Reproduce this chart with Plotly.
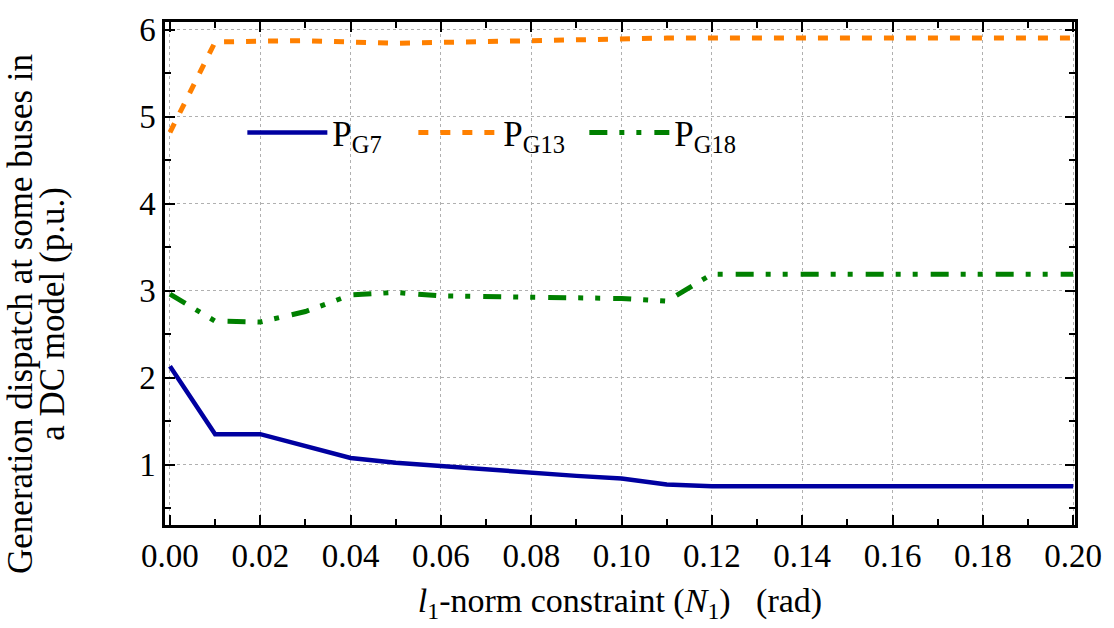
import plotly.graph_objects as go

# l1-norm constraint values (rad)
n1 = [0.00, 0.01, 0.02, 0.03, 0.04, 0.05, 0.06, 0.07, 0.08, 0.09, 0.10,
      0.11, 0.12, 0.13, 0.14, 0.15, 0.16, 0.17, 0.18, 0.19, 0.20]

# generation dispatch (p.u.)
p_g7 = [2.13, 1.35, 1.35, 1.21, 1.075, 1.02, 0.98, 0.94, 0.905, 0.87, 0.84,
        0.77, 0.75, 0.75, 0.75, 0.75, 0.75, 0.75, 0.75, 0.75, 0.75]
p_g13 = [4.82, 5.86, 5.87, 5.875, 5.86, 5.845, 5.855, 5.865, 5.88, 5.89, 5.905,
         5.905, 5.905, 5.905, 5.905, 5.905, 5.905, 5.905, 5.905, 5.905, 5.905]
p_g18 = [2.96, 2.65, 2.64, 2.76, 2.95, 2.98, 2.94, 2.93, 2.93, 2.92, 2.91,
         2.88, 3.19, 3.19, 3.19, 3.19, 3.19, 3.19, 3.19, 3.19, 3.19]

x_ticks = [0.00, 0.02, 0.04, 0.06, 0.08, 0.10, 0.12, 0.14, 0.16, 0.18, 0.20]
x_tick_text = ["0.00", "0.02", "0.04", "0.06", "0.08", "0.10",
               "0.12", "0.14", "0.16", "0.18", "0.20"]
y_ticks = [1, 2, 3, 4, 5, 6]

y_title_lines = ["Generation dispatch at some buses in", "a DC model (p.u.)"]

FONT = "Times New Roman, Liberation Serif, serif"
TICK_FONT = dict(family=FONT, size=33, color="black")
TITLE_FONT = dict(family=FONT, size=35, color="black")

fig = go.Figure()
fig.add_trace(go.Scatter(
    x=n1, y=p_g7, mode="lines", name="P<sub>G7</sub>",
    line=dict(color="#0000A0", width=4.5, dash="solid"),
))
fig.add_trace(go.Scatter(
    x=n1, y=p_g13, mode="lines", name="P<sub>G13</sub>",
    line=dict(color="#FF8000", width=5, dash="10px,12px"),
))
fig.add_trace(go.Scatter(
    x=n1, y=p_g18, mode="lines", name="P<sub>G18</sub>",
    line=dict(color="#008000", width=5, dash="18px,12px,5px,12px,5px,13px"),
))

axis_common = dict(
    showline=True, linecolor="black", linewidth=2.5, mirror="allticks",
    ticks="inside", ticklen=10, tickwidth=2, tickcolor="black",
    showgrid=True, gridcolor="#b0b0b0", gridwidth=1, griddash="dot",
    zeroline=False,
    tickfont=TICK_FONT,
)

fig.update_xaxes(
    range=[-0.0011, 0.2004],
    tickvals=x_ticks, ticktext=x_tick_text,
    minor=dict(dtick=0.01, ticks="inside", ticklen=6, tickwidth=2,
               tickcolor="black", showgrid=False),
    title=dict(text="<i>l</i><sub>1</sub>-norm constraint (<i>N</i><sub>1</sub>)   (rad)",
               font=dict(family=FONT, size=34, color="black"), standoff=15),
    **axis_common,
)
fig.update_yaxes(
    range=[0.305, 6.09],
    tickvals=y_ticks,
    minor=dict(dtick=0.5, tick0=0, ticks="inside", ticklen=6, tickwidth=2,
               tickcolor="black", showgrid=False),
    **axis_common,
)

# two-line y-axis title, set as rotated annotations for tight line spacing
for line_text, x_pos in zip(y_title_lines, [-0.158, -0.123]):
    fig.add_annotation(
        text=line_text, xref="paper", yref="paper", x=x_pos, y=0.42,
        xanchor="center", yanchor="middle", textangle=-90,
        showarrow=False, font=TITLE_FONT,
    )

fig.update_layout(
    width=1114, height=628,
    margin=dict(l=165, r=39, t=14, b=103),
    paper_bgcolor="white", plot_bgcolor="white",
    font=TICK_FONT,
    showlegend=True,
    legend=dict(
        orientation="h", x=0.085, y=0.78, xanchor="left", yanchor="middle",
        bgcolor="rgba(0,0,0,0)", borderwidth=0,
        font=dict(family=FONT, size=35, color="black"),
        itemwidth=80, entrywidth=76, tracegroupgap=0,
    ),
)

fig.write_html("out.html")
